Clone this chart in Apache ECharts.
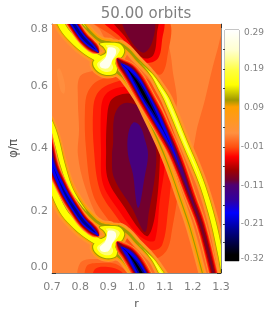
<!DOCTYPE html>
<html><head><meta charset="utf-8">
<style>html,body{margin:0;padding:0;background:#fff}#c{width:266px;height:309px}</style>
<script src="https://cdn.jsdelivr.net/npm/echarts@6/dist/echarts.min.js"></script>
</head><body><div id="c"></div>
<script>
// colour scale
const scaleValues = [0.29,0.237,0.211,0.184,0.145,0.105,0.087,0.018,-0.019,-0.045,-0.08,-0.106,-0.119,-0.159,-0.193,-0.238,-0.304,-0.32];
const scaleColors = ['#ffffff','#ffffd0','#ffff90','#ffff40','#ffff00','#a09800','#ffa000','#ff9040','#ff5010','#ff0000','#a00000','#700030','#500070','#3000a0','#0000ff','#000090','#000000','#000000'];
const barLabelValues = [0.282,0.187,0.084,-0.019,-0.122,-0.222,-0.315];
const barLabels = ['0.29','0.19','0.09','-0.01','-0.11','-0.21','-0.32'];
const barTickValues = [0.24,0.187,0.137,0.084,0.034,-0.019,-0.07,-0.122,-0.172,-0.222,-0.27];

// contour outlines: [r, phi/pi]
const bgArea = [[0.6,0.9],[1.4,0.9],[1.4,-0.1],[0.6,-0.1]];
const bigArea = [[.828,.814],[1.332,.814],[1.332,-.023],[1.048,-.006],[.995,.048],[.924,.106],[.870,.164],[.817,.277],[.792,.380],[.796,.460],[.792,.557],[.799,.631],[.853,.653],[.906,.686],[.870,.782]];
const wedge = [[1.122,.814],[1.304,.814],[1.296,.750],[1.268,.653],[1.243,.557],[1.218,.476],[1.190,.380],[1.137,.493],[1.144,.557],[1.126,.670]];
const patch = [[.718,.653],[.728,.657],[.746,.605],[.743,.576],[.732,.583],[.721,.621]];
const topB = [[.842,.814],[.941,.744],[1.005,.676],[1.083,.637],[1.108,.686],[1.108,.814]];
const topD = [[.881,.814],[.952,.750],[1.012,.679],[1.073,.686],[1.091,.750],[1.091,.814]];
const topF = [[.917,.814],[.959,.760],[1.020,.692],[1.059,.699],[1.073,.773],[1.073,.814]];
const topG = [[.952,.814],[.977,.750],[1.023,.708],[1.055,.740],[1.059,.814]];
const colB = [[.817,.525],[.828,.583],[.870,.621],[.977,.637],[1.048,.615],[1.140,.428],[1.151,.299],[1.126,.138],[1.108,.074],[1.066,.048],[.977,.090],[.906,.164],[.846,.251],[.821,.396]];
const colC = [[.846,.525],[.860,.576],[.899,.605],[.977,.621],[1.037,.605],[1.119,.444],[1.126,.348],[1.112,.203],[1.091,.090],[1.055,.074],[.988,.116],[.924,.187],[.870,.267],[.849,.396]];
const colD = [[.874,.525],[.885,.567],[.913,.589],[.977,.599],[1.030,.583],[1.101,.428],[1.101,.348],[1.083,.235],[1.066,.106],[1.041,.103],[.998,.129],[.938,.200],[.881,.286],[.874,.396]];
const colF = [[.895,.493],[.906,.550],[.934,.570],[.977,.576],[1.023,.557],[1.076,.451],[1.083,.364],[1.066,.187],[1.041,.119],[1.012,.138],[.959,.209],[.899,.299],[.892,.396]];
const colG = [[.917,.418],[.920,.499],[.941,.538],[.970,.547],[1.012,.531],[1.048,.460],[1.069,.396],[1.066,.315],[1.044,.196],[1.030,.132],[.984,.209],[.920,.306],[.913,.380]];
const colH = [[.970,.444],[.988,.483],[1.012,.473],[1.030,.428],[1.041,.380],[1.027,.299],[1.012,.219],[1.005,.209],[.998,.235],[.988,.315],[.970,.380]];
const humpA = [[.799,-.023],[.803,.035],[.870,.045],[.941,.035],[1.012,-.023]];
const humpB = [[.824,-.023],[.824,.023],[.870,.032],[.934,.026],[.984,-.023]];
const humpC = [[.849,-.023],[.853,.013],[.899,.019],[.948,.003],[.956,-.023]];
const blobYellow = [[.870,.737],[.906,.740],[.938,.737],[.956,.718],[.950,.697],[.925,.676],[.931,.657],[.924,.641],[.888,.637],[.856,.653],[.846,.676],[.863,.692],[.892,.708],[.885,.724]];
const blobPale = [[.892,.731],[.920,.731],[.941,.718],[.930,.699],[.912,.679],[.917,.660],[.906,.647],[.878,.650],[.860,.670],[.881,.689],[.902,.705],[.899,.721]];
const blobWhite = [[.899,.724],[.924,.721],[.927,.705],[.915,.686],[.906,.666],[.895,.657],[.874,.660],[.870,.673],[.888,.689],[.895,.708]];

// spiral arm ridgelines [r, phi/pi] and half widths of each contour (in r units) along them
const rightDark = [[.931,.689],[.945,.673],[.970,.653],[.998,.618],[1.030,.567],[1.066,.509],[1.094,.460],[1.126,.402],[1.158,.332],[1.190,.251],[1.229,.155],[1.272,.003],[1.289,-.071]];
const rightDarkBands = [
 [0.03,[.007,.020,.030,.034,.034,.033,.029,.025,.023,.021,.019,.018,.018]],
 [-0.02,[.005,.018,.027,.031,.031,.029,.026,.022,.020,.018,.016,.015,.015]],
 [-0.047,[0,.014,.023,.027,.027,.026,.022,.019,.017,.015,.013,.012,.012]],
 [-0.08,[0,.011,.020,.023,.023,.021,.018,.014,.012,.010,.009,.008,.008]],
 [-0.105,[0,.007,.016,.020,.020,.018,.015,.011,.009,.006,.004,.0035,.0035]],
 [-0.125,[0,.002,.014,.018,.018,.017,.013,.009,.006,.002,0,0,0]],
 [-0.19,[0,0,.011,.016,.016,.014,.011,.004,0,0,0,0,0]],
 [-0.24,[0,0,.002,.009,.011,.007,.002,0,0,0,0,0,0]],
 [-0.31,[0,0,0,.0035,.005,.001,0,0,0,0,0,0,0]]
];
const leftDark = [[.672,1.040],[.686,1.001],[.704,.930],[.728,.879],[.753,.834],[.782,.792],[.810,.756],[.835,.734],[.855,.718],[.866,.708]];
const leftDarkBands = [
 [0.03,[.023,.023,.023,.023,.023,.023,.023,.023,.019,.006]],
 [-0.02,[.020,.020,.020,.020,.020,.020,.020,.020,.016,.004]],
 [-0.047,[.018,.018,.018,.018,.018,.018,.018,.018,.013,0]],
 [-0.08,[.015,.015,.015,.015,.015,.015,.015,.015,.010,0]],
 [-0.105,[.012,.012,.012,.012,.012,.012,.012,.012,.008,0]],
 [-0.125,[.010,.010,.010,.010,.010,.010,.010,.010,.006,0]],
 [-0.19,[0,0,.008,.010,.010,.010,.010,.009,.004,0]],
 [-0.24,[0,0,0,.002,.004,.005,.005,.004,0,0]]
];
const rightBright = [[.934,.740],[.970,.718],[1.002,.686],[1.034,.657],[1.059,.631],[1.083,.596],[1.108,.557],[1.172,.418],[1.204,.351],[1.236,.277],[1.272,.167],[1.300,.052],[1.318,-.023]];
const rightBrightBands = [
 [0.04,[.014,.016,.016,.016,.016,.019,.021,.021,.021,.020,.020,.020,.020]],
 [0.087,[.007,.008,.008,.008,.009,.012,.014,.014,.014,.0135,.0135,.0135,.0135]],
 [0.105,[.004,.005,.005,.005,.006,.009,.011,.011,.011,.0105,.0105,.0105,.0105]],
 [0.145,[0,0,0,.001,.004,.007,.009,.009,.009,.0085,.0085,.0085,.0085]],
 [0.19,[0,0,0,0,0,.002,.004,.004,.002,0,0,0,0]]
];
const innerEdge = [[.931,.647],[.952,.628],[1.002,.563],[1.041,.493],[1.083,.412],[1.119,.332],[1.154,.241],[1.190,.145],[1.233,.003],[1.254,-.071]];
const innerEdgeBands = [
 [0.04,[.014,.014,.014,.014,.014,.014,.014,.014,.014,.014]],
 [0.087,[.008,.008,.007,.007,.007,.007,.007,.007,.007,.007]],
 [0.105,[.004,.003,.003,.0025,.0025,.002,.002,.002,.002,.002]]
];
const lowerBright = [[.657,.975],[.682,.911],[.700,.866],[.739,.789],[.775,.750],[.810,.721],[.846,.699],[.881,.682],[.917,.670]];
const lowerBrightBands = [
 [0.04,[.025,.025,.025,.025,.025,.025,.025,.025,.025]],
 [0.087,[.018,.018,.018,.018,.018,.018,.018,.018,.018]],
 [0.105,[.014,.014,.014,.014,.014,.014,.014,.014,.014]],
 [0.145,[.012,.012,.012,.012,.012,.012,.012,.012,.012]]
];
const upperBright = [[.679,1.091],[.700,1.059],[.718,1.008],[.736,.943],[.764,.866],[.792,.824],[.824,.785],[.870,.747],[.913,.737]];
const upperBrightBands = [
 [0.04,[.018,.018,.018,.018,.018,.017,.017,.017,.017]],
 [0.087,[.014,.014,.014,.014,.013,.012,.011,.011,.011]],
 [0.105,[.011,.011,.011,.010,.008,.006,.005,.005,.005]],
 [0.145,[.009,.009,.009,.008,.006,.003,0,0,0]]
];
const spiralShifts = [0, -0.589];

function hex(c){return [1,3,5].map(i=>parseInt(c.substr(i,2),16));}
function levelColor(v){
  for(let i=0;i<scaleValues.length-1;i++){
    if(v<=scaleValues[i]&&v>=scaleValues[i+1]){
      const t=(scaleValues[i]-v)/(scaleValues[i]-scaleValues[i+1]);
      const a=hex(scaleColors[i]),b=hex(scaleColors[i+1]);
      return 'rgb('+a.map((x,k)=>Math.round(x+(b[k]-x)*t)).join(',')+')';
    }
  }
  return '#000';
}
const shapes=[];
function area(level,pts,halo){shapes.push({level,pts,halo:halo||0});}
[[0.012,bgArea],[-0.003,bigArea],[0.012,wedge],[0.017,patch],
 [-0.02,topB],[-0.047,topD],[-0.08,topF],[-0.105,topG],
 [-0.003,humpA],[-0.02,humpB],[-0.035,humpC],
 [-0.02,colB],[-0.035,colC],[-0.047,colD],[-0.08,colF],[-0.105,colG],[-0.13,colH]
].forEach(s=>area(s[0],s[1]));

const arms=[[rightBright,rightBrightBands],[innerEdge,innerEdgeBands],[lowerBright,lowerBrightBands],[upperBright,upperBrightBands]];
const darkArms=[[rightDark,rightDarkBands],[leftDark,leftDarkBands]];
spiralShifts.forEach(dp=>{
  const sh=p=>p.map(q=>[q[0],q[1]+dp]);
  [[0.04,7],[0.087,4.5],[0.105,2]].forEach(h=>{
    shapes.push({level:h[0],pts:sh(blobYellow),halo:h[1]});
    arms.forEach(a=>{const b=a[1].find(x=>x[0]===h[0]); if(b)shapes.push({level:h[0],spine:sh(a[0]),w:b[1]});});
  });
  arms.forEach(a=>{a[1].filter(x=>x[0]>0.11).forEach(b=>shapes.push({level:b[0],spine:sh(a[0]),w:b[1]}));});
  area(0.145,sh(blobYellow)); area(0.2,sh(blobPale)); area(0.27,sh(blobWhite));
  [0.03,-0.02,-0.047,-0.08,-0.105,-0.125,-0.19,-0.24,-0.31].forEach(l=>{
    darkArms.forEach(a=>{const b=a[1].find(x=>x[0]===l); if(b)shapes.push({level:l,spine:sh(a[0]),w:b[1]});});
  });
});

function ribbon(s,api){
  const P=s.spine.map(p=>api.coord(p));
  const W=s.w.map((w,i)=>api.coord([s.spine[i][0]+w,s.spine[i][1]])[0]-P[i][0]);
  let a=W.findIndex(w=>w>0), b=W.length-1; while(b>0&&W[b]<=0)b--;
  a=Math.max(0,a-1); b=Math.min(W.length-1,b+1);
  const L=[],R=[];
  for(let i=a;i<=b;i++){
    const p0=P[Math.max(0,i-1)],p1=P[Math.min(P.length-1,i+1)];
    let dx=p1[0]-p0[0],dy=p1[1]-p0[1];const n=Math.hypot(dx,dy)||1;dx/=n;dy/=n;
    if(W[i]<=0){L.push(P[i]);continue;}
    L.push([P[i][0]-dy*W[i],P[i][1]+dx*W[i]]);
    R.unshift([P[i][0]+dy*W[i],P[i][1]-dx*W[i]]);
  }
  return L.concat(R);
}
function renderShape(params,api){
  const s=shapes[params.dataIndex];
  const c=levelColor(s.level);
  const points=s.spine?ribbon(s,api):s.pts.map(p=>api.coord(p));
  return {type:'polygon',shape:{points,smooth:s.pts===bgArea?0:0.35},
    style:{fill:c,stroke:s.halo?c:null,lineWidth:s.halo||0,lineJoin:'round'}};
}
function renderBar(params,api){
  const a=api.coord([0,0.29]),b=api.coord([1,-0.32]);
  const stops=scaleValues.map((v,i)=>({offset:(0.29-v)/0.61,color:scaleColors[i]}));
  return {type:'rect',shape:{x:a[0],y:a[1],width:b[0]-a[0],height:b[1]-a[1]},
    style:{fill:new echarts.graphic.LinearGradient(0,0,0,1,stops)}};
}
const gray='#808080',frame='#8a8a8a',tick='#333',font='"DejaVu Sans"';
const xBase={type:'value',gridIndex:0,min:0.7,max:1.3,interval:0.1,splitLine:{show:false},
  axisLine:{show:true,onZero:false,lineStyle:{color:frame,width:1}},
  axisTick:{show:true,inside:true,length:4,lineStyle:{color:tick,width:1}},
  minorTick:{show:true,splitNumber:10,length:2,lineStyle:{color:tick,width:1}}};
const yBase={type:'value',gridIndex:0,min:0,max:0.8,interval:0.2,splitLine:{show:false},
  axisLine:{show:true,onZero:false,lineStyle:{color:frame,width:1}},
  axisTick:{show:true,inside:true,length:4,lineStyle:{color:tick,width:1}},
  minorTick:{show:true,splitNumber:4,length:2,lineStyle:{color:tick,width:1}}};
const chart=echarts.init(document.getElementById('c'),null,{renderer:'canvas'});
chart.setOption({
  animation:false,backgroundColor:'#fff',
  title:{text:'50.00 orbits',left:141,top:2,textAlign:'center',textStyle:{fontFamily:font,fontSize:15,fontWeight:'normal',color:gray}},
  grid:[{left:52,top:24,width:169,height:249,show:false,outerBoundsMode:'none'},{left:225,top:30,width:14,height:231,show:true,borderColor:frame,borderWidth:1,outerBoundsMode:'none'}],
  xAxis:[
    Object.assign({},xBase,{position:'bottom',name:'r',nameLocation:'middle',nameGap:26,
      nameTextStyle:{fontFamily:font,fontSize:11,color:'#555'},
      axisLabel:{margin:9,fontFamily:font,fontSize:11,color:gray,formatter:v=>v.toFixed(1)}}),
    Object.assign({},xBase,{position:'top',axisLabel:{show:false}}),
    {type:'value',gridIndex:1,min:0,max:1,show:false}
  ],
  yAxis:[
    Object.assign({},yBase,{position:'left',name:'φ/π',nameLocation:'middle',nameGap:31,nameRotate:90,
      nameTextStyle:{fontFamily:font,fontSize:12,color:'#555'},
      axisLabel:{margin:4,fontFamily:font,fontSize:11,color:gray,verticalAlignMinLabel:'bottom',verticalAlignMaxLabel:'top',formatter:v=>v.toFixed(1)}}),
    Object.assign({},yBase,{position:'right',axisLabel:{show:false}}),
    {type:'value',gridIndex:1,min:-0.32,max:0.29,position:'right',splitLine:{show:false},
     axisLine:{show:false},
     axisTick:{show:true,inside:true,length:2,customValues:barTickValues,lineStyle:{color:'#444',width:1}},
     axisLabel:{show:true,margin:25,align:'right',fontFamily:font,fontSize:9,color:gray,
       customValues:barLabelValues,formatter:v=>barLabels[barLabelValues.indexOf(v)]}}
  ],
  series:[
    {type:'custom',xAxisIndex:0,yAxisIndex:0,clip:true,z:1,silent:true,renderItem:renderShape,data:shapes.map(()=>[1,0.4])},
    {type:'custom',xAxisIndex:2,yAxisIndex:2,clip:true,z:1,silent:true,renderItem:renderBar,data:[[0.5,0]]}
  ]
});
</script></body></html>
